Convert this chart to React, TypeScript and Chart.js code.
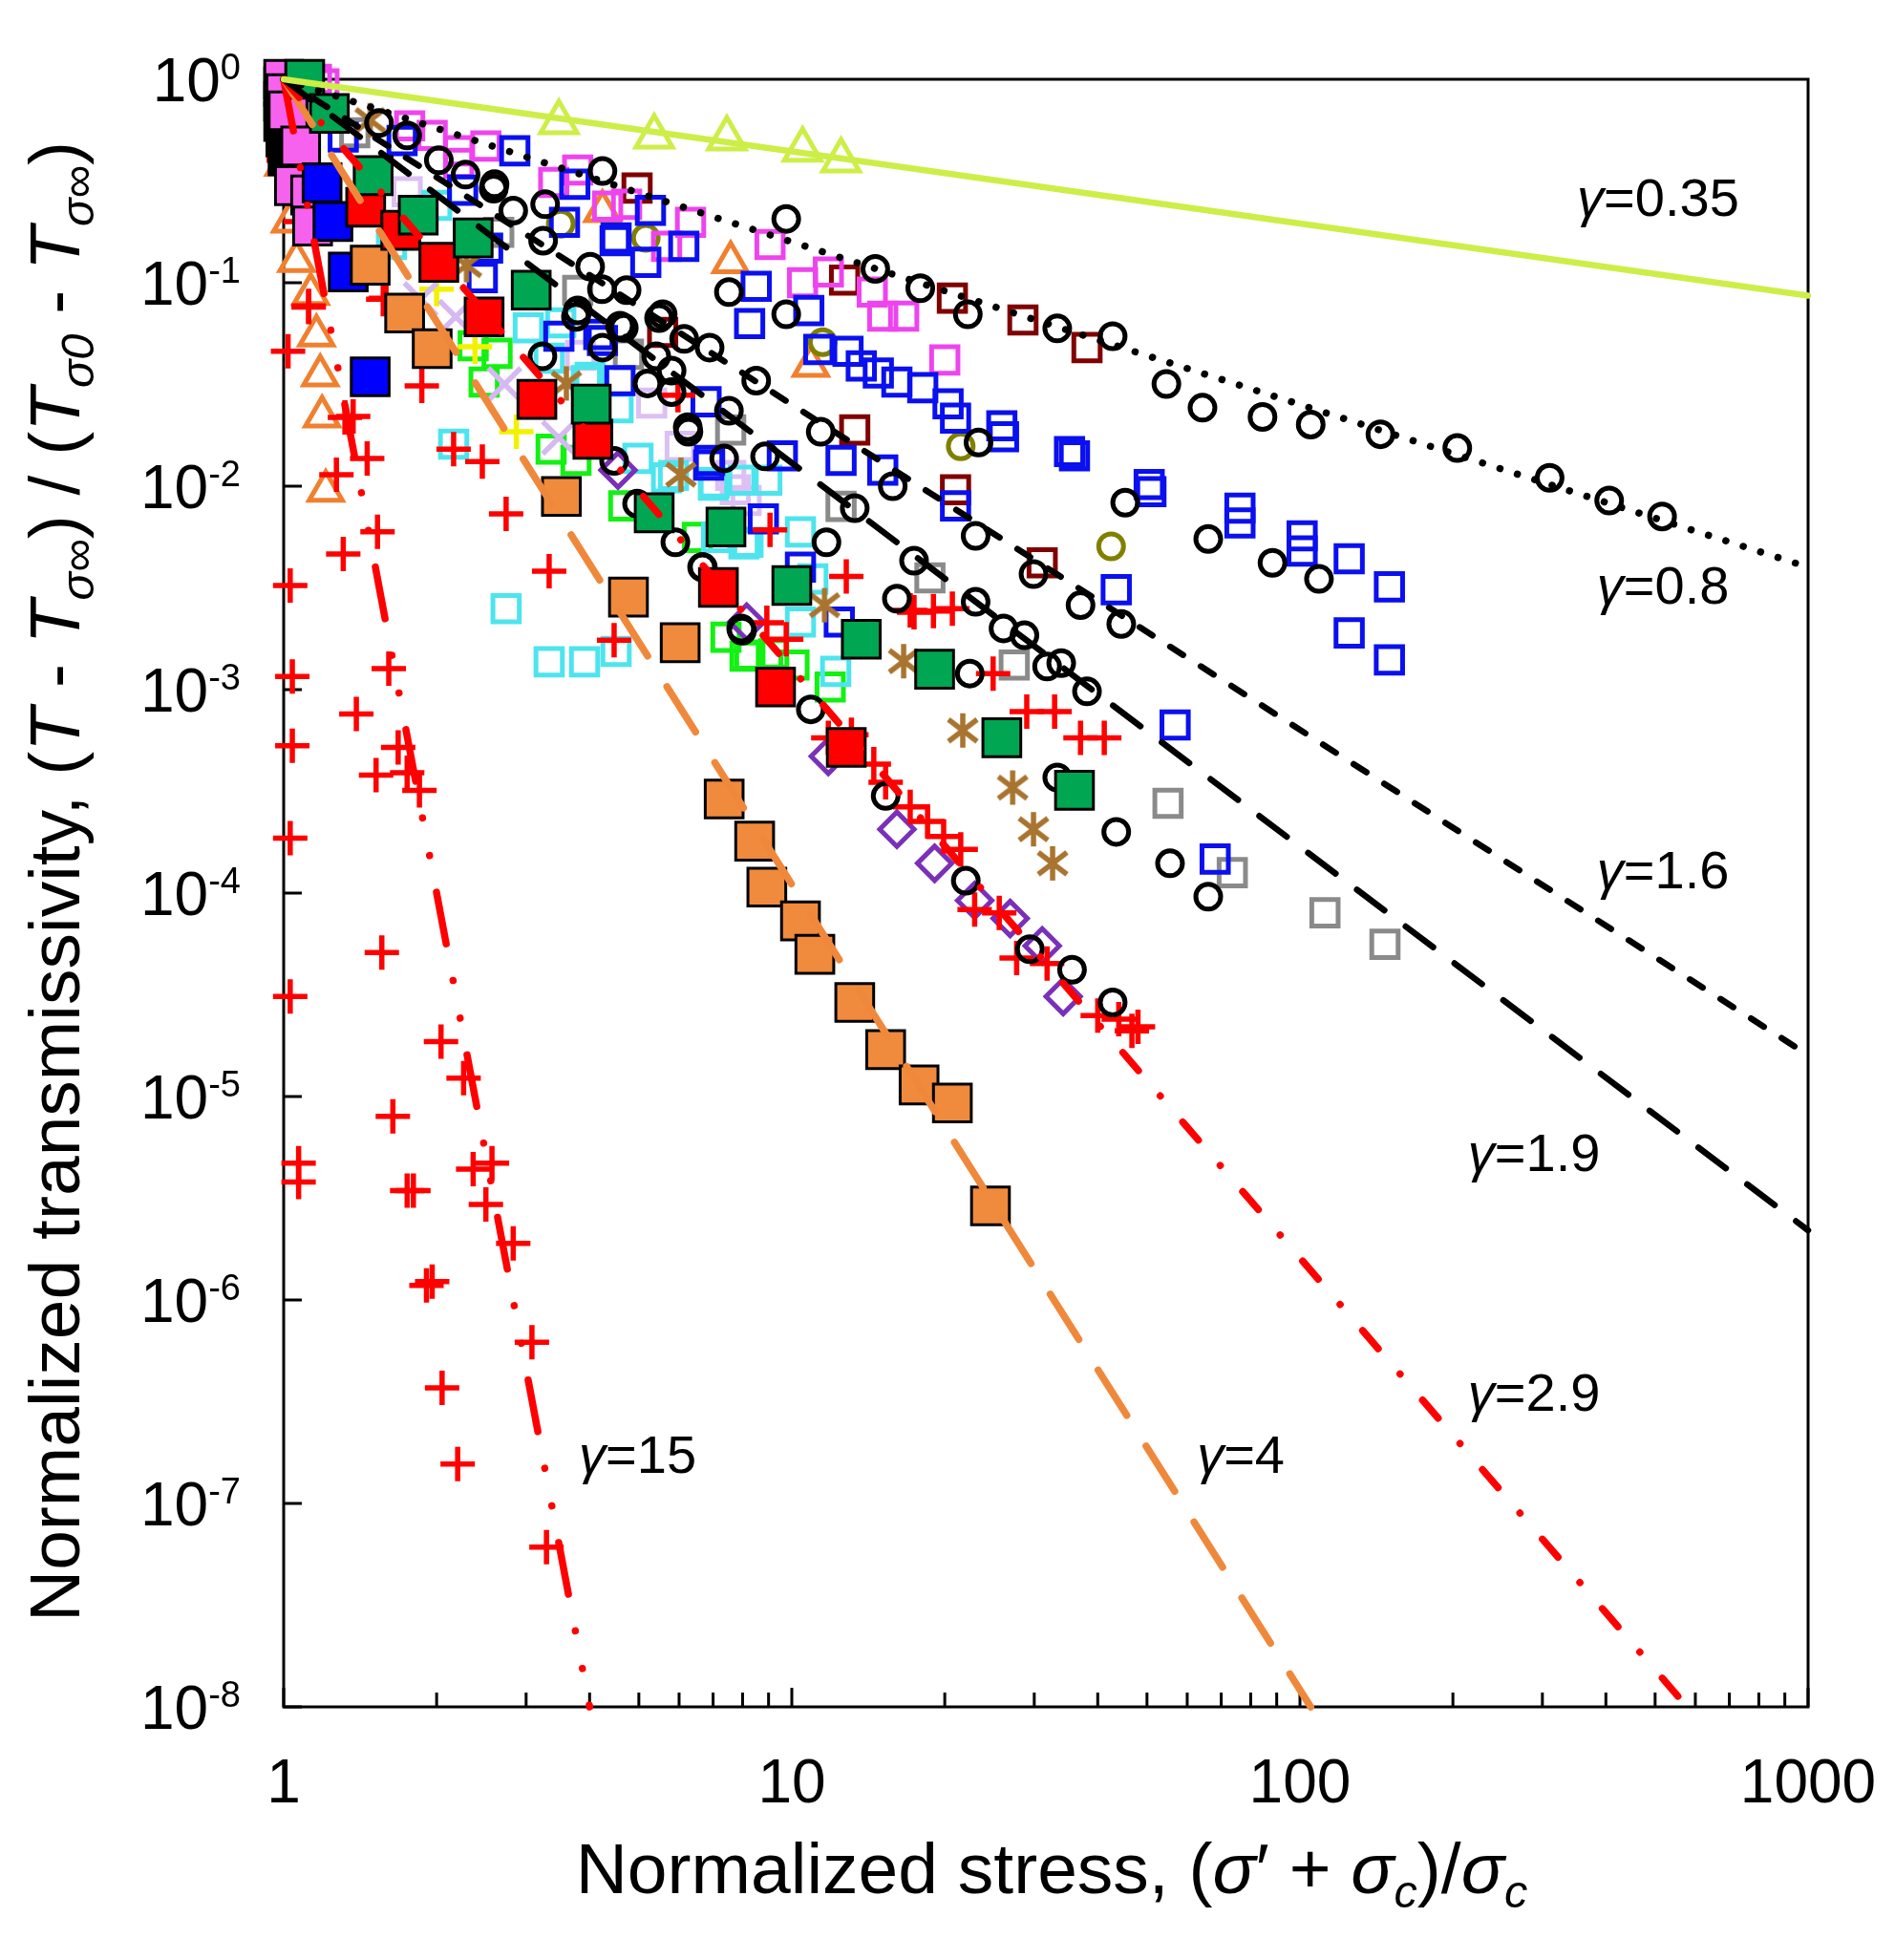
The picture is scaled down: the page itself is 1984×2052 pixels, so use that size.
import React, { useEffect, useRef } from "react";
import { Chart, registerables } from "chart.js";

Chart.register(...registerables);

type Pt = [number, number];

const FONT = '"Liberation Sans", Arial, Helvetica, sans-serif';

// fitted power-law lines (end points)
const lineG035: Pt[] = [[1, 1], [1000, 0.0865]];
const lineG08: Pt[] = [[1, 1], [1000, 0.004]];
const lineG16: Pt[] = [[1, 1], [1000, 1.6e-5]];
const lineG19: Pt[] = [[1, 1], [1000, 2.2e-6]];
const lineG29: Pt[] = [[1, 1], [578, 1e-8]];
const lineG4: Pt[] = [[1, 1], [105, 1e-8]];
const lineG15: Pt[] = [[1, 1], [4.0, 1e-8]];

// gamma labels and where they sit (left edge, baseline)
const gammaText = ["0.35", "0.8", "1.6", "1.9", "2.9", "4", "15"];
const gammaLabelX = [351, 384, 384, 214, 214, 62.7, 3.81];
const gammaLabelY = [0.213, 2.65e-3, 1.05e-4, 4.3e-6, 2.85e-7, 1.41e-7, 1.41e-7];

// axis ticks
const xTickValues = [1, 10, 100, 1000];
const xTickLabels = ["1", "10", "100", "1000"];
const xMinorDecades = [1, 10, 100];
const xMinorSteps = [2, 3, 4, 5, 6, 7, 8, 9];
const yTickValues = [1, 1e-1, 1e-2, 1e-3, 1e-4, 1e-5, 1e-6, 1e-7, 1e-8];
const yTickExponents = ["0", "-1", "-2", "-3", "-4", "-5", "-6", "-7", "-8"];

// measured data
const blackCircles: Pt[] = [
  [11.7, 5.3e-3], [6.68, 4.0e-3], [17.4, 4.3e-3], [16.1, 2.8e-3], [23.0, 2.7e-3], [26.1, 2.0e-3],
  [28.7, 1.85e-3], [31.8, 1.3e-3], [33.9, 1.35e-3], [38.1, 9.8e-4], [22.4, 1.2e-3], [44.5, 2.1e-3],
  [37.0, 2.6e-3], [29.9, 3.7e-3], [23.0, 5.7e-3], [66.0, 5.5e-3], [33.3, 3.7e-4], [43.5, 2.0e-4],
  [55.5, 1.4e-4], [66.0, 9.6e-5], [15.3, 3.0e-4], [22.0, 1.15e-4], [29.4, 5.3e-5], [35.6, 4.2e-5],
  [42.8, 2.9e-5], [10.9, 8.0e-4], [7.95, 2.0e-3],
  [4.24, 0.354], [3.24, 0.161], [4.01, 0.12], [4.73, 0.092], [3.79, 0.073], [4.59, 0.0615],
  [5.57, 0.07], [6.14, 0.053], [6.89, 0.048], [8.51, 0.033], [9.75, 0.206], [7.52, 0.09],
  [9.75, 0.07], [14.6, 0.117], [17.9, 0.094], [22.2, 0.07], [33.3, 0.0596], [42.8, 0.0546],
  [54.6, 0.0318], [64.3, 0.0243], [11.4, 0.0185], [13.3, 7.8e-3], [15.8, 0.01], [23.3, 0.0164],
  [45.3, 8.3e-3], [5.8, 0.029], [6.26, 0.0185], [8.86, 0.014], [4.24, 0.048], [5.2, 0.032], [3.27, 0.243],
  [84.4, 0.0219], [105, 0.0201], [144, 0.018], [204, 0.0154], [310, 0.011], [406, 8.5e-3], [516, 7.1e-3],
  [88.3, 4.2e-3], [109, 3.5e-3],
  [1.0, 1.0], [1.54, 0.61], [1.75, 0.53], [2.02, 0.4], [2.28, 0.34], [2.59, 0.29], [2.83, 0.226], [2.6, 0.305],
  [4.47, 0.0133], [4.96, 8.2e-3], [5.9, 5.3e-3], [6.66, 4.0e-3], [7.98, 1.95e-3], [7.36, 0.0137],
  [7.52, 0.0235], [6.24, 0.0195], [5.8, 0.037], [5.48, 0.067], [4.67, 0.06], [3.76, 0.068],
  [3.23, 0.0435], [4.23, 0.093], [5.41, 0.0435],
];

const blueSquares: Pt[] = [
  [3.74, 0.305], [3.57, 0.198], [5.27, 0.227], [4.51, 0.166], [5.16, 0.126], [6.13, 0.151], [8.51, 0.096],
  [8.26, 0.063], [10.8, 0.073], [11.3, 0.047], [12.9, 0.046], [13.7, 0.039], [14.8, 0.036], [16.1, 0.0325],
  [18.1, 0.0305], [20.3, 0.0254], [21.0, 0.0216], [25.9, 0.0198], [26.1, 0.0175], [35.2, 0.0148],
  [36.0, 0.0141], [50.5, 0.0102], [50.9, 9.4e-3], [21.0, 8.0e-3], [43.5, 3.1e-3], [12.5, 0.0134],
  [15.1, 0.012], [9.58, 0.0141], [8.79, 6.9e-3], [6.78, 0.026], [6.89, 0.0134], [4.59, 0.033],
  [4.24, 0.052], [3.48, 0.0546], [10.4, 4.0e-3], [12.4, 2.15e-3], [56.8, 6.7e-4], [68.1, 1.47e-4],
  [76.2, 7.8e-3], [76.2, 6.6e-3], [101, 5.7e-3], [101, 4.8e-3], [125, 4.4e-3], [150, 3.2e-3],
  [125, 1.9e-3], [150, 1.4e-3], [1.31, 0.52], [2.85, 0.445], [2.25, 0.285], [2.52, 0.148],
  [4.49, 0.161], [2.46, 0.106], [1.71, 0.5], [4.17, 0.0557], [6.86, 0.0127],
];

const magentaSquares: Pt[] = [
  [3.4, 0.311], [3.79, 0.358], [4.34, 0.238], [4.73, 0.243], [6.32, 0.198], [5.67, 0.151], [9.06, 0.154],
  [10.5, 0.1], [11.8, 0.113], [14.4, 0.09], [15.1, 0.0685], [16.6, 0.0685], [20.0, 0.0417],
  [1.16, 1.0], [1.77, 0.59], [2.21, 0.386], [2.21, 0.445], [1.96, 0.53], [2.5, 0.47], [1.2, 0.95],
];

const darkRedSquares: Pt[] = [
  [4.96, 0.292], [12.7, 0.103], [20.7, 0.084], [28.5, 0.0656], [38.1, 0.048], [5.57, 0.057],
  [13.3, 0.0189], [21.0, 9.6e-3], [31.1, 4.2e-3],
];

const graySquares: Pt[] = [
  [3.79, 0.0917], [4.77, 0.0445], [7.58, 0.0189], [12.5, 7.96e-3], [18.7, 3.54e-3], [27.4, 1.32e-3],
  [55.0, 2.76e-4], [73.6, 1.26e-4], [112, 8.0e-5], [147, 5.6e-5], [1.38, 0.546], [2.65, 0.177],
];

const cyanSquares: Pt[] = [
  [2.16, 0.0161], [2.74, 2.5e-3], [3.33, 1.37e-3], [3.91, 1.37e-3], [4.51, 1.54e-3], [3.33, 0.0426],
  [4.01, 0.0343], [4.55, 0.0243], [4.98, 0.0137], [5.85, 0.0113], [7.01, 0.0101], [8.02, 0.0107],
  [7.11, 5.6e-3], [3.03, 0.06], [8.2, 5.3e-3], [3.94, 0.033], [5.67, 0.011], [7.04, 0.0104],
  [8.93, 0.0107], [10.4, 5.96e-3], [8.05, 5.2e-3], [11.0, 3.5e-3], [10.4, 2.15e-3], [12.2, 1.23e-3],
  [1.63, 0.154], [2.0, 0.24], [3.51, 0.0635],
];

const lavenderSquares: Pt[] = [
  [3.84, 0.044], [5.3, 0.0256], [6.03, 0.0157], [7.74, 9.6e-3], [8.13, 8.5e-3], [7.58, 0.0113], [1.75, 0.28],
];

const limeSquares: Pt[] = [
  [2.48, 0.0325], [2.63, 0.045], [3.36, 0.0152], [3.76, 0.0134], [4.67, 8.0e-3], [7.42, 1.81e-3],
  [8.09, 1.46e-3], [6.52, 5.6e-3], [8.27, 1.48e-3], [9.21, 1.5e-3], [10.1, 1.32e-3], [11.9, 1.03e-3],
  [2.36, 0.049],
];

const oliveCircles: Pt[] = [[5.16, 0.166], [11.5, 0.051], [21.5, 0.0157], [42.5, 5.06e-3], [3.51, 0.195]];

const orangeTriangles: Pt[] = [
  [1.06, 0.128], [1.13, 0.088], [1.16, 0.055], [1.18, 0.035], [1.19, 0.022], [1.21, 9.5e-3],
  [1.03, 0.2], [1.0, 0.38], [4.24, 0.225], [7.58, 0.126], [10.9, 0.039],
];

const limeTriangles: Pt[] = [[3.48, 0.615], [5.36, 0.523], [7.45, 0.511], [10.5, 0.45], [12.5, 0.399]];

const redPlus: Pt[] = [
  [2.2, 1.56e-7], [3.29, 6.1e-8], [1.02, 0.046], [1.12, 0.077], [1.57, 0.083], [1.87, 0.0311],
  [1.32, 0.0218], [1.46, 0.0137], [1.27, 0.0114], [2.16, 0.0152], [2.46, 0.0132], [2.74, 7.3e-3],
  [1.53, 5.96e-3], [1.31, 4.64e-3], [1.03, 3.25e-3], [3.33, 3.82e-3], [4.47, 1.75e-3], [1.61, 1.27e-3],
  [1.04, 1.16e-3], [1.39, 7.6e-4], [1.04, 5.3e-4], [1.68, 5.2e-4],
  [1.03, 1.86e-4], [1.03, 3.1e-5], [1.07, 4.7e-6], [1.07, 3.8e-6], [1.52, 3.8e-4], [1.75, 3.9e-4],
  [1.85, 3.2e-4], [1.56, 5.1e-5], [1.64, 8e-6], [1.75, 3.45e-6], [1.8, 3.45e-6], [2.04, 1.86e-5],
  [2.26, 1.23e-5], [2.36, 4.4e-6], [2.57, 4.7e-6], [2.5, 2.95e-6], [2.83, 1.9e-6], [1.91, 1.18e-6],
  [1.96, 1.23e-6], [2.05, 3.7e-7], [3.08, 6.2e-7],
  [8.93, 2.13e-3], [9.75, 1.77e-3], [12.8, 3.6e-3], [19.0, 2.43e-3], [17.4, 2.4e-3], [20.7, 2.5e-3],
  [24.9, 1.2e-3], [29.0, 7.8e-4], [32.9, 7.8e-4], [37.0, 5.8e-4], [41.2, 5.8e-4], [14.5, 4.3e-4],
  [15.3, 3.5e-4], [17.1, 2.65e-4], [18.5, 2.25e-4], [19.9, 1.9e-4], [21.5, 1.64e-4], [22.9, 8.3e-5],
  [25.6, 8.0e-5], [27.7, 4.8e-5], [31.8, 4.5e-5], [40.0, 2.5e-5], [46.7, 2.1e-5], [44, 2.4e-5],
  [48, 2.2e-5], [5.97, 0.028], [9.06, 6.1e-3], [17.1, 2.45e-3], [11.8, 5.8e-4], [13.1, 6.0e-4],
  [1.0, 0.4], [1.12, 0.076], [1.59, 0.084], [1.37, 0.022], [1.02, 0.5], [1.05, 0.3], [1.08, 0.2],
];

const brownStars: Pt[] = [
  [1.48, 0.63], [3.6, 0.032], [6.05, 0.0114], [11.6, 2.6e-3], [16.6, 1.38e-3], [21.7, 6.3e-4],
  [27.2, 3.3e-4], [29.9, 2.06e-4], [32.6, 1.4e-4], [2.29, 0.122],
];

const purpleDiamonds: Pt[] = [
  [4.55, 0.012], [8.15, 2.15e-3], [11.8, 4.7e-4], [16.1, 2.06e-4], [19.1, 1.4e-4], [22.9, 9.2e-5],
  [26.9, 7.5e-5], [31.1, 5.5e-5], [34.2, 3.1e-5],
];

const lavenderCrosses: Pt[] = [[1.86, 0.083], [2.18, 0.068], [2.72, 0.0317], [3.48, 0.0173]];

const yellowPlus: Pt[] = [[2.0, 0.093], [2.38, 0.0485], [2.87, 0.0185]];

const greenFilled: Pt[] = [
  [1.1, 1.0], [1.23, 0.68], [1.5, 0.336], [1.84, 0.215], [2.36, 0.166], [3.07, 0.092], [4.03, 0.0253],
  [5.36, 7.4e-3], [7.42, 6.3e-3], [10.0, 3.25e-3], [13.7, 1.77e-3], [19.1, 1.26e-3], [25.9, 5.8e-4],
  [36.0, 3.2e-4],
];

const redFilled: Pt[] = [
  [1.45, 0.235], [1.7, 0.181], [2.02, 0.126], [2.48, 0.068], [3.15, 0.0267], [4.06, 0.017],
  [7.17, 3.18e-3], [9.29, 1.03e-3], [12.8, 5.2e-4],
];

const orangeFilled: Pt[] = [
  [1.73, 0.071], [1.96, 0.0474], [3.52, 8.9e-3], [4.77, 2.85e-3], [6.03, 1.7e-3], [1.48, 0.122],
  [7.36, 2.9e-4], [8.45, 1.8e-4], [8.93, 1.07e-4], [10.4, 7.3e-5], [11.1, 5.0e-5], [13.3, 2.9e-5],
  [15.3, 1.7e-5], [17.8, 1.14e-5], [20.7, 9.3e-6], [24.6, 2.9e-6],
];

const blueFilled: Pt[] = [[1.25, 0.2], [1.34, 0.113], [1.48, 0.0345], [1.19, 0.31]];

const pinkFilled: Pt[] = [[1.0, 1.0], [1.01, 0.85], [1.02, 0.7], [1.08, 0.47], [1.05, 0.3], [1.13, 0.27], [1.14, 0.19]];

const blackFilled: Pt[] = [[1.0, 0.92], [1.0, 0.78], [1.0, 0.62], [1.01, 0.52], [1.02, 0.42]];

const xy = (pts: Pt[]) => pts.map(([x, y]) => ({ x, y }));

function makeAsterisk(color: string) {
  const c = document.createElement("canvas");
  c.width = 44;
  c.height = 44;
  const g = c.getContext("2d")!;
  g.strokeStyle = color;
  g.lineWidth = 5.5;
  g.beginPath();
  g.moveTo(22, 4);
  g.lineTo(22, 40);
  g.moveTo(7, 10.5);
  g.lineTo(37, 33.5);
  g.moveTo(7, 33.5);
  g.lineTo(37, 10.5);
  g.stroke();
  return c;
}

function lineSet(data: Pt[], color: string, width: number, dash: number[]) {
  return {
    data: xy(data),
    showLine: true,
    pointRadius: 0,
    borderColor: color,
    borderWidth: width,
    borderDash: dash,
    borderCapStyle: "round",
    fill: false,
    clip: false,
  };
}

function openSet(data: Pt[], color: string, style: any, radius: number, width = 5) {
  return {
    data: xy(data),
    showLine: false,
    pointStyle: style,
    pointRadius: radius,
    pointBorderColor: color,
    pointBackgroundColor: "rgba(0,0,0,0)",
    pointBorderWidth: width,
    clip: false,
  };
}

function filledSet(data: Pt[], color: string) {
  return {
    data: xy(data),
    showLine: false,
    pointStyle: "rect",
    pointRadius: 28,
    pointBorderColor: "#000",
    pointBackgroundColor: color,
    pointBorderWidth: 3,
    clip: false,
  };
}

type Seg = { t: string; i?: boolean; sub?: boolean };

function drawRich(ctx: CanvasRenderingContext2D, segs: Seg[], x: number, y: number, size: number, align: "left" | "center") {
  const fontOf = (s: Seg) => `${s.i ? "italic " : ""}${s.sub ? size * 0.65 : size}px ${FONT}`;
  const widths = segs.map((s) => {
    ctx.font = fontOf(s);
    return ctx.measureText(s.t).width;
  });
  const total = widths.reduce((a, b) => a + b, 0);
  let cx = align === "center" ? x - total / 2 : x;
  ctx.textAlign = "left";
  ctx.textBaseline = "alphabetic";
  segs.forEach((s, k) => {
    ctx.font = fontOf(s);
    ctx.fillText(s.t, cx, s.sub ? y + size * 0.2 : y);
    cx += widths[k];
  });
}

const xTitle: Seg[] = [
  { t: "Normalized stress, (" },
  { t: "σ", i: true },
  { t: "′ + " },
  { t: "σ", i: true },
  { t: "c", i: true, sub: true },
  { t: ")/" },
  { t: "σ", i: true },
  { t: "c", i: true, sub: true },
];

const yTitle: Seg[] = [
  { t: "Normalized transmissivity, (" },
  { t: "T", i: true },
  { t: " - " },
  { t: "T", i: true },
  { t: "σ∞", i: true, sub: true },
  { t: ") / (" },
  { t: "T", i: true },
  { t: "σ0", i: true, sub: true },
  { t: " - " },
  { t: "T", i: true },
  { t: "σ∞", i: true, sub: true },
  { t: ")" },
];

const paperAxes = {
  id: "paperAxes",
  beforeDatasetsDraw(chart: any) {
    const { ctx, chartArea: a, scales } = chart;
    const x = scales.x;
    const y = scales.y;
    ctx.save();
    ctx.strokeStyle = "#000";
    ctx.lineWidth = 3;
    ctx.strokeRect(a.left, a.top, a.right - a.left, a.bottom - a.top);
    ctx.beginPath();
    xMinorDecades.forEach((d) => {
      xMinorSteps.forEach((m) => {
        const px = x.getPixelForValue(d * m);
        ctx.moveTo(px, a.bottom);
        ctx.lineTo(px, a.bottom - 15);
      });
    });
    xTickValues.forEach((v) => {
      const px = x.getPixelForValue(v);
      ctx.moveTo(px, a.bottom);
      ctx.lineTo(px, a.bottom - 20);
    });
    yTickValues.forEach((v) => {
      const py = y.getPixelForValue(v);
      ctx.moveTo(a.left, py);
      ctx.lineTo(a.left + 19, py);
    });
    ctx.stroke();
    ctx.restore();
  },
  afterDraw(chart: any) {
    const { ctx, chartArea: a, scales } = chart;
    const x = scales.x;
    const y = scales.y;
    ctx.save();
    ctx.fillStyle = "#000";
    ctx.textBaseline = "alphabetic";

    // x tick labels
    ctx.font = `64px ${FONT}`;
    ctx.textAlign = "center";
    xTickValues.forEach((v, k) => {
      ctx.fillText(xTickLabels[k], x.getPixelForValue(v), 1887);
    });

    // y tick labels: 10 with superscript exponent
    const right = 252;
    yTickValues.forEach((v, k) => {
      const py = y.getPixelForValue(v);
      ctx.font = `38px ${FONT}`;
      ctx.textAlign = "right";
      const ew = ctx.measureText(yTickExponents[k]).width;
      ctx.fillText(yTickExponents[k], right, py);
      ctx.font = `64px ${FONT}`;
      ctx.fillText("10", right - ew, py + 23);
    });

    // gamma labels
    gammaText.forEach((g, k) => {
      drawRich(
        ctx,
        [{ t: "γ", i: true }, { t: "=" + g }],
        x.getPixelForValue(gammaLabelX[k]),
        y.getPixelForValue(gammaLabelY[k]),
        56,
        "left"
      );
    });

    // axis titles
    drawRich(ctx, xTitle, (a.left + a.right) / 2 + 6, 1982, 75, "center");
    ctx.save();
    ctx.translate(83, 1698);
    ctx.rotate(-Math.PI / 2);
    drawRich(ctx, yTitle, 0, 0, 75, "left");
    ctx.restore();
    ctx.restore();
  },
};

export default function App() {
  const canvasRef = useRef<HTMLCanvasElement | null>(null);

  useEffect(() => {
    document.body.style.margin = "0";
    if (!canvasRef.current) return;
    const star = makeAsterisk("#a8742f");

    const datasets: any[] = [
      lineSet(lineG035, "#cdee48", 6.5, []),
      lineSet(lineG08, "#000", 7.5, [0.1, 19]),
      lineSet(lineG16, "#000", 6.5, [16, 22]),
      lineSet(lineG19, "#000", 6.5, [36, 28]),
      lineSet(lineG29, "#ff0000", 7.5, [25, 35, 0.1, 36]),
      lineSet(lineG4, "#f0883c", 7.5, [56, 38]),
      lineSet(lineG15, "#ff0000", 7.5, [55, 39, 0.1, 40, 0.1, 39]),
      filledSet(greenFilled, "#00a651"),
      filledSet(redFilled, "#ff0000"),
      filledSet(orangeFilled, "#f08a3c"),
      filledSet(blueFilled, "#0000ff"),
      filledSet(pinkFilled, "#f662ee"),
      filledSet(blackFilled, "#000"),
      openSet(blackCircles, "#000", "circle", 13, 5),
      openSet(limeTriangles, "#cdee48", "triangle", 22),
      openSet(redPlus, "#ff0000", "cross", 18, 5.5),
      openSet(brownStars, "#a8742f", star, 22),
      openSet(purpleDiamonds, "#7a30b8", "rectRot", 18),
      openSet(lavenderCrosses, "#d6b8f2", "crossRot", 24, 5.5),
      openSet(yellowPlus, "#f2f200", "cross", 18, 5.5),
      openSet(blueSquares, "#0a10ee", "rect", 19.5),
      openSet(magentaSquares, "#ee44ee", "rect", 19.5),
      openSet(darkRedSquares, "#800000", "rect", 19.5),
      openSet(graySquares, "#8a8a8a", "rect", 19.5),
      openSet(cyanSquares, "#4ee4ee", "rect", 19.5),
      openSet(lavenderSquares, "#dcc0f4", "rect", 19.5),
      openSet(limeSquares, "#14f014", "rect", 19.5),
      openSet(oliveCircles, "#808000", "circle", 13, 5),
      openSet(orangeTriangles, "#f08030", "triangle", 20),
    ];

    const chart = new Chart(canvasRef.current, {
      type: "scatter",
      data: { datasets },
      options: {
        animation: false,
        responsive: false,
        devicePixelRatio: 1,
        events: [],
        layout: { padding: { left: 297, top: 83, right: 91, bottom: 265 } },
        plugins: { legend: { display: false }, tooltip: { enabled: false } },
        scales: {
          x: { type: "logarithmic", min: 1, max: 1000, display: false },
          y: { type: "logarithmic", min: 1e-8, max: 1, display: false },
        },
      },
      plugins: [paperAxes],
    } as any);

    return () => chart.destroy();
  }, []);

  return (
    <div style={{ width: 1984, height: 2052, background: "#fff" }}>
      <canvas ref={canvasRef} width={1984} height={2052} style={{ display: "block", width: 1984, height: 2052 }} />
    </div>
  );
}
